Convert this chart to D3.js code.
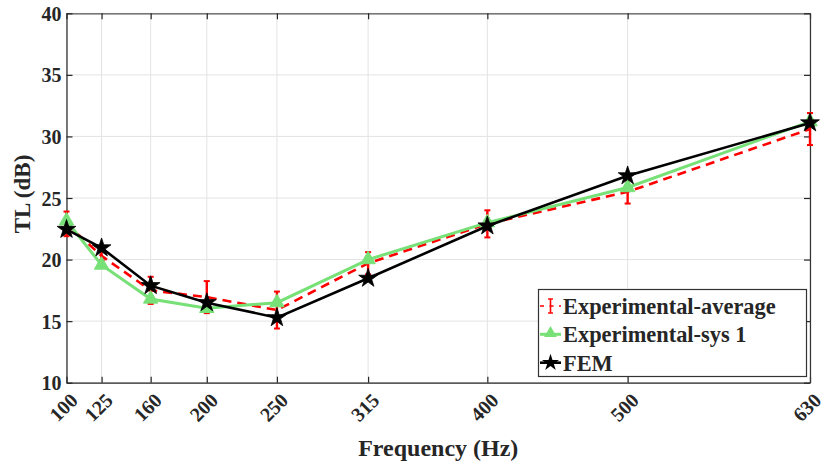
<!DOCTYPE html>
<html>
<head>
<meta charset="utf-8">
<script src="https://cdn.jsdelivr.net/npm/d3@7"></script>
<style>
  html, body { margin: 0; padding: 0; background: #fff; }
  svg { display: block; }
  text { font-family: "Liberation Serif", "Times New Roman", serif; font-weight: bold; fill: #262626; }
</style>
</head>
<body>
<svg id="chart" width="825" height="465"></svg>
<script>
// ---- data ----
const frequencies = [100, 125, 160, 200, 250, 315, 400, 500, 630];
const expAverage  = [22.9, 20.3, 17.5, 16.95, 15.9, 19.7, 22.9, 25.5, 30.6];
const expError    = [1.0, 0.35, 1.1, 1.3, 1.5, 0.9, 1.1, 0.95, 1.3];
const expSys1     = [23.15, 19.56, 16.8, 16.04, 16.5, 20.0, 23.0, 25.85, 31.2];
const fem         = [22.45, 20.95, 17.88, 16.5, 15.28, 18.48, 22.73, 26.8, 31.1];
const yTicks      = [10, 15, 20, 25, 30, 35, 40];
const seriesNames = ["Experimental-average", "Experimental-sys 1", "FEM"];

// ---- layout ----
const svg = d3.select("#chart");
const L = 66.5, R = 810, T = 13.3, B = 382.7;
const x = d3.scaleLinear().domain([100, 630]).range([L, R]);
const y = d3.scaleLinear().domain([10, 40]).range([B, T]);

const RED = "#ff0000", GREEN = "#77e077", BLACK = "#000000";

// grid
const grid = svg.append("g");
grid.selectAll("line.vx").data(frequencies).enter().append("line")
  .attr("x1", d => x(d)).attr("x2", d => x(d)).attr("y1", T).attr("y2", B)
  .attr("stroke", "#e3e3e3").attr("stroke-width", 1);
grid.selectAll("line.hy").data(yTicks).enter().append("line")
  .attr("x1", L).attr("x2", R).attr("y1", d => y(d)).attr("y2", d => y(d))
  .attr("stroke", "#e3e3e3").attr("stroke-width", 1);

// axes with inward ticks
const gx = svg.append("g").attr("transform", `translate(0,${B})`)
  .call(d3.axisBottom(x).tickValues(frequencies).tickSizeInner(-6).tickSizeOuter(0).tickFormat(d3.format("d")));
const gxTop = svg.append("g").attr("transform", `translate(0,${T})`)
  .call(d3.axisTop(x).tickValues(frequencies).tickSizeInner(-6).tickSizeOuter(0).tickFormat(""));
const gy = svg.append("g").attr("transform", `translate(${L},0)`)
  .call(d3.axisLeft(y).tickValues(yTicks).tickSizeInner(-6).tickSizeOuter(0).tickFormat(d3.format("d")));
const gyR = svg.append("g").attr("transform", `translate(${R},0)`)
  .call(d3.axisRight(y).tickValues(yTicks).tickSizeInner(-6).tickSizeOuter(0).tickFormat(""));

[gx, gxTop, gy, gyR].forEach(g => {
  g.select(".domain").attr("stroke", "#262626").attr("stroke-width", 1.2);
  g.selectAll(".tick line").attr("stroke", "#262626").attr("stroke-width", 1.2);
});
gxTop.select(".domain").attr("stroke", "#555");
gyR.select(".domain").attr("stroke", "#333");

gy.selectAll(".tick text")
  .attr("x", -5).attr("dy", "0.35em")
  .style("font-size", "20px").style("font-family", "Liberation Serif").style("font-weight", "bold")
  .attr("fill", "#262626");

gx.selectAll(".tick text")
  .attr("y", 0).attr("dy", "0.35em")
  .attr("text-anchor", "end")
  .attr("transform", "translate(7,14) rotate(-45)")
  .style("font-size", "20px").style("font-family", "Liberation Serif").style("font-weight", "bold")
  .attr("fill", "#262626");

// axis labels
svg.append("text").attr("x", (L + R) / 2).attr("y", 456)
  .attr("text-anchor", "middle").style("font-size", "24px").text("Frequency (Hz)");
svg.append("text").attr("transform", `translate(30,194) rotate(-90)`)
  .attr("text-anchor", "middle").style("font-size", "23px").text("TL (dB)");

// ---- series ----
const idx = d3.range(frequencies.length);
const lineGen = vals => d3.line().x(i => x(frequencies[i])).y(i => y(vals[i]))(idx);

// experimental average: dashed red with error bars
svg.append("path").attr("d", lineGen(expAverage))
  .attr("fill", "none").attr("stroke", RED).attr("stroke-width", 2.6).attr("stroke-dasharray", "9,6");
const eb = svg.append("g");
idx.forEach(i => {
  const cx = x(frequencies[i]);
  const y1 = y(expAverage[i] + expError[i]), y2 = y(expAverage[i] - expError[i]);
  eb.append("line").attr("x1", cx).attr("x2", cx).attr("y1", y1).attr("y2", y2)
    .attr("stroke", RED).attr("stroke-width", 2.4);
  [y1, y2].forEach(yy => eb.append("line").attr("x1", cx - 3).attr("x2", cx + 3).attr("y1", yy).attr("y2", yy)
    .attr("stroke", RED).attr("stroke-width", 2));
});

// experimental sys 1: green with triangles
svg.append("path").attr("d", lineGen(expSys1))
  .attr("fill", "none").attr("stroke", GREEN).attr("stroke-width", 3);
svg.append("g").selectAll("path").data(idx).enter().append("path")
  .attr("d", d3.symbol().type(d3.symbolTriangle).size(90))
  .attr("transform", i => `translate(${x(frequencies[i])},${y(expSys1[i])})`)
  .attr("fill", GREEN).attr("stroke", GREEN);

// FEM: black with stars
svg.append("path").attr("d", lineGen(fem))
  .attr("fill", "none").attr("stroke", BLACK).attr("stroke-width", 2.6);
svg.append("g").selectAll("path").data(idx).enter().append("path")
  .attr("d", d3.symbol().type(d3.symbolStar).size(110))
  .attr("transform", i => `translate(${x(frequencies[i])},${y(fem[i])})`)
  .attr("fill", BLACK).attr("stroke", BLACK).attr("stroke-width", 0.8);

// ---- legend ----
const lg = svg.append("g");
lg.append("rect").attr("x", 538.5).attr("y", 289.5).attr("width", 268).attr("height", 87)
  .attr("fill", "#fff").attr("stroke", "#333").attr("stroke-width", 1.2);
const rowY = [306, 334.3, 362.7];
const sx1 = 540, sx2 = 561, sxm = 550.5;
// row 1
lg.append("line").attr("x1", sx1).attr("x2", sx2).attr("y1", rowY[0]).attr("y2", rowY[0])
  .attr("stroke", RED).attr("stroke-width", 1.6).attr("stroke-dasharray", "4,5.5");
lg.append("line").attr("x1", sxm).attr("x2", sxm).attr("y1", rowY[0] - 7).attr("y2", rowY[0] + 7)
  .attr("stroke", RED).attr("stroke-width", 1.6);
[rowY[0] - 7, rowY[0] + 7].forEach(yy => lg.append("line").attr("x1", sxm - 2.5).attr("x2", sxm + 2.5)
  .attr("y1", yy).attr("y2", yy).attr("stroke", RED).attr("stroke-width", 1.4));
// row 2
lg.append("line").attr("x1", sx1).attr("x2", sx2).attr("y1", rowY[1]).attr("y2", rowY[1])
  .attr("stroke", GREEN).attr("stroke-width", 3);
lg.append("path").attr("d", d3.symbol().type(d3.symbolTriangle).size(70)())
  .attr("transform", `translate(${sxm},${rowY[1] - 1})`).attr("fill", GREEN);
// row 3
lg.append("line").attr("x1", sx1).attr("x2", sx2).attr("y1", rowY[2]).attr("y2", rowY[2])
  .attr("stroke", BLACK).attr("stroke-width", 2.6);
lg.append("path").attr("d", d3.symbol().type(d3.symbolStar).size(90)())
  .attr("transform", `translate(${sxm},${rowY[2]})`).attr("fill", BLACK);

lg.selectAll("text.lt").data(seriesNames).enter().append("text")
  .attr("x", 563).attr("y", (d, i) => rowY[i]).attr("dy", "0.35em")
  .style("font-size", "22.4px").attr("fill", "#000").text(d => d);
</script>
</body>
</html>
